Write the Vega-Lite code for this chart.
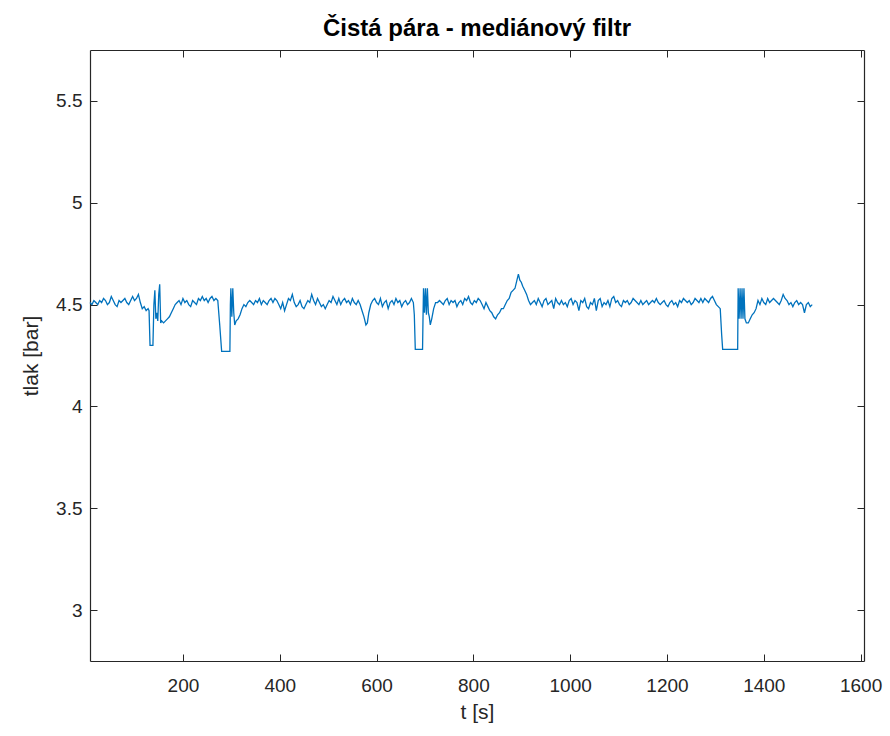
{
  "$schema": "https://vega.github.io/schema/vega-lite/v6.json",
  "width": 774,
  "height": 611,
  "autosize": "none",
  "padding": {"left": 90, "top": 50, "right": 26, "bottom": 75},
  "background": "white",
  "title": {
    "text": "Čistá pára - mediánový filtr",
    "font": "Liberation Sans",
    "fontSize": 24,
    "fontWeight": "bold",
    "color": "#000000",
    "offset": 9
  },
  "config": {
    "view": {"stroke": null},
    "axis": {
      "labelFont": "Liberation Sans",
      "titleFont": "Liberation Sans",
      "labelColor": "#262626",
      "titleColor": "#262626",
      "domainColor": "#262626",
      "tickColor": "#262626",
      "grid": false,
      "labelFontSize": 19,
      "titleFontSize": 21,
      "titleFontWeight": "normal",
      "tickSize": -7,
      "domainWidth": 1.2
    }
  },
  "data": {
    "values": [
      {"t": 8, "p": 4.51}, {"t": 12, "p": 4.5}, {"t": 16, "p": 4.52}, {"t": 20, "p": 4.51},
      {"t": 24, "p": 4.5}, {"t": 28, "p": 4.52}, {"t": 32, "p": 4.51}, {"t": 36, "p": 4.53},
      {"t": 40, "p": 4.52}, {"t": 44, "p": 4.5}, {"t": 48, "p": 4.51}, {"t": 52, "p": 4.54},
      {"t": 56, "p": 4.52}, {"t": 60, "p": 4.5}, {"t": 64, "p": 4.49}, {"t": 68, "p": 4.52},
      {"t": 72, "p": 4.51}, {"t": 76, "p": 4.52}, {"t": 80, "p": 4.53}, {"t": 84, "p": 4.51},
      {"t": 88, "p": 4.5}, {"t": 92, "p": 4.52}, {"t": 96, "p": 4.54}, {"t": 100, "p": 4.52},
      {"t": 104, "p": 4.53}, {"t": 108, "p": 4.55}, {"t": 112, "p": 4.51}, {"t": 116, "p": 4.48},
      {"t": 120, "p": 4.49}, {"t": 124, "p": 4.47}, {"t": 128, "p": 4.48}, {"t": 130, "p": 4.47},
      {"t": 132, "p": 4.3}, {"t": 138, "p": 4.3}, {"t": 140, "p": 4.5}, {"t": 142, "p": 4.57},
      {"t": 144, "p": 4.43}, {"t": 146, "p": 4.46}, {"t": 148, "p": 4.42}, {"t": 150, "p": 4.55},
      {"t": 152, "p": 4.6}, {"t": 154, "p": 4.41}, {"t": 156, "p": 4.42}, {"t": 160, "p": 4.41},
      {"t": 164, "p": 4.42}, {"t": 168, "p": 4.43}, {"t": 172, "p": 4.44}, {"t": 176, "p": 4.46},
      {"t": 180, "p": 4.48}, {"t": 184, "p": 4.5}, {"t": 188, "p": 4.51}, {"t": 192, "p": 4.52},
      {"t": 196, "p": 4.5}, {"t": 200, "p": 4.53}, {"t": 204, "p": 4.51}, {"t": 208, "p": 4.52},
      {"t": 212, "p": 4.5}, {"t": 216, "p": 4.49}, {"t": 220, "p": 4.52}, {"t": 224, "p": 4.51},
      {"t": 228, "p": 4.5}, {"t": 232, "p": 4.53}, {"t": 236, "p": 4.52}, {"t": 240, "p": 4.54},
      {"t": 244, "p": 4.52}, {"t": 248, "p": 4.53}, {"t": 252, "p": 4.51}, {"t": 256, "p": 4.53},
      {"t": 260, "p": 4.54}, {"t": 264, "p": 4.52}, {"t": 268, "p": 4.53}, {"t": 272, "p": 4.52},
      {"t": 276, "p": 4.4}, {"t": 280, "p": 4.27}, {"t": 297, "p": 4.27}, {"t": 298, "p": 4.5},
      {"t": 299, "p": 4.58}, {"t": 301, "p": 4.44}, {"t": 303, "p": 4.58}, {"t": 305, "p": 4.46},
      {"t": 307, "p": 4.4}, {"t": 310, "p": 4.42}, {"t": 314, "p": 4.43}, {"t": 318, "p": 4.45},
      {"t": 322, "p": 4.48}, {"t": 326, "p": 4.5}, {"t": 330, "p": 4.49}, {"t": 334, "p": 4.51},
      {"t": 338, "p": 4.52}, {"t": 342, "p": 4.51}, {"t": 346, "p": 4.5}, {"t": 350, "p": 4.52},
      {"t": 354, "p": 4.51}, {"t": 358, "p": 4.53}, {"t": 362, "p": 4.5}, {"t": 366, "p": 4.52},
      {"t": 370, "p": 4.51}, {"t": 374, "p": 4.5}, {"t": 378, "p": 4.52}, {"t": 382, "p": 4.53},
      {"t": 386, "p": 4.51}, {"t": 390, "p": 4.53}, {"t": 394, "p": 4.52}, {"t": 398, "p": 4.5},
      {"t": 402, "p": 4.48}, {"t": 406, "p": 4.51}, {"t": 410, "p": 4.47}, {"t": 414, "p": 4.5},
      {"t": 418, "p": 4.53}, {"t": 422, "p": 4.52}, {"t": 426, "p": 4.55}, {"t": 430, "p": 4.51},
      {"t": 434, "p": 4.49}, {"t": 438, "p": 4.5}, {"t": 442, "p": 4.52}, {"t": 446, "p": 4.49},
      {"t": 450, "p": 4.48}, {"t": 454, "p": 4.5}, {"t": 458, "p": 4.52}, {"t": 462, "p": 4.51},
      {"t": 466, "p": 4.55}, {"t": 470, "p": 4.52}, {"t": 474, "p": 4.5}, {"t": 478, "p": 4.53},
      {"t": 482, "p": 4.51}, {"t": 486, "p": 4.49}, {"t": 490, "p": 4.5}, {"t": 494, "p": 4.48},
      {"t": 498, "p": 4.5}, {"t": 502, "p": 4.52}, {"t": 506, "p": 4.51}, {"t": 510, "p": 4.54},
      {"t": 514, "p": 4.52}, {"t": 518, "p": 4.5}, {"t": 522, "p": 4.53}, {"t": 526, "p": 4.5},
      {"t": 530, "p": 4.52}, {"t": 534, "p": 4.53}, {"t": 538, "p": 4.51}, {"t": 542, "p": 4.52},
      {"t": 546, "p": 4.5}, {"t": 550, "p": 4.53}, {"t": 554, "p": 4.51}, {"t": 558, "p": 4.5},
      {"t": 562, "p": 4.52}, {"t": 566, "p": 4.5}, {"t": 570, "p": 4.47}, {"t": 574, "p": 4.44},
      {"t": 578, "p": 4.4}, {"t": 581, "p": 4.41}, {"t": 584, "p": 4.46}, {"t": 588, "p": 4.5},
      {"t": 592, "p": 4.52}, {"t": 596, "p": 4.53}, {"t": 600, "p": 4.51}, {"t": 604, "p": 4.5},
      {"t": 608, "p": 4.53}, {"t": 612, "p": 4.49}, {"t": 616, "p": 4.51}, {"t": 620, "p": 4.52},
      {"t": 624, "p": 4.48}, {"t": 628, "p": 4.51}, {"t": 632, "p": 4.52}, {"t": 636, "p": 4.5},
      {"t": 640, "p": 4.53}, {"t": 644, "p": 4.51}, {"t": 648, "p": 4.52}, {"t": 652, "p": 4.49},
      {"t": 656, "p": 4.51}, {"t": 660, "p": 4.52}, {"t": 664, "p": 4.5}, {"t": 668, "p": 4.51},
      {"t": 672, "p": 4.53}, {"t": 676, "p": 4.51}, {"t": 678, "p": 4.45}, {"t": 680, "p": 4.28},
      {"t": 695, "p": 4.28}, {"t": 696, "p": 4.44}, {"t": 697, "p": 4.58}, {"t": 699, "p": 4.46},
      {"t": 701, "p": 4.58}, {"t": 703, "p": 4.45}, {"t": 705, "p": 4.58}, {"t": 707, "p": 4.46},
      {"t": 709, "p": 4.44}, {"t": 711, "p": 4.4}, {"t": 714, "p": 4.43}, {"t": 718, "p": 4.48},
      {"t": 722, "p": 4.51}, {"t": 726, "p": 4.51}, {"t": 730, "p": 4.52}, {"t": 734, "p": 4.51},
      {"t": 738, "p": 4.5}, {"t": 742, "p": 4.52}, {"t": 746, "p": 4.53}, {"t": 750, "p": 4.5},
      {"t": 754, "p": 4.52}, {"t": 758, "p": 4.51}, {"t": 762, "p": 4.52}, {"t": 766, "p": 4.49},
      {"t": 770, "p": 4.51}, {"t": 774, "p": 4.52}, {"t": 778, "p": 4.5}, {"t": 782, "p": 4.53},
      {"t": 786, "p": 4.52}, {"t": 790, "p": 4.54}, {"t": 794, "p": 4.51}, {"t": 798, "p": 4.5},
      {"t": 802, "p": 4.52}, {"t": 806, "p": 4.51}, {"t": 810, "p": 4.53}, {"t": 814, "p": 4.52},
      {"t": 818, "p": 4.5}, {"t": 822, "p": 4.48}, {"t": 826, "p": 4.51}, {"t": 830, "p": 4.49},
      {"t": 834, "p": 4.47}, {"t": 838, "p": 4.46}, {"t": 842, "p": 4.44}, {"t": 846, "p": 4.43},
      {"t": 850, "p": 4.45}, {"t": 854, "p": 4.46}, {"t": 858, "p": 4.48}, {"t": 862, "p": 4.48},
      {"t": 866, "p": 4.5}, {"t": 870, "p": 4.52}, {"t": 874, "p": 4.53}, {"t": 878, "p": 4.56},
      {"t": 882, "p": 4.57}, {"t": 886, "p": 4.58}, {"t": 890, "p": 4.62}, {"t": 893, "p": 4.65},
      {"t": 896, "p": 4.62}, {"t": 899, "p": 4.61}, {"t": 902, "p": 4.59}, {"t": 906, "p": 4.57},
      {"t": 910, "p": 4.55}, {"t": 914, "p": 4.52}, {"t": 918, "p": 4.5}, {"t": 922, "p": 4.51},
      {"t": 926, "p": 4.52}, {"t": 930, "p": 4.5}, {"t": 934, "p": 4.53}, {"t": 938, "p": 4.51},
      {"t": 942, "p": 4.49}, {"t": 946, "p": 4.52}, {"t": 950, "p": 4.53}, {"t": 954, "p": 4.5},
      {"t": 958, "p": 4.51}, {"t": 962, "p": 4.52}, {"t": 966, "p": 4.48}, {"t": 970, "p": 4.53},
      {"t": 974, "p": 4.51}, {"t": 978, "p": 4.5}, {"t": 982, "p": 4.52}, {"t": 986, "p": 4.5},
      {"t": 990, "p": 4.51}, {"t": 994, "p": 4.49}, {"t": 998, "p": 4.52}, {"t": 1002, "p": 4.53},
      {"t": 1006, "p": 4.5}, {"t": 1010, "p": 4.52}, {"t": 1014, "p": 4.51}, {"t": 1018, "p": 4.47},
      {"t": 1022, "p": 4.52}, {"t": 1026, "p": 4.51}, {"t": 1030, "p": 4.53}, {"t": 1034, "p": 4.49},
      {"t": 1038, "p": 4.48}, {"t": 1042, "p": 4.51}, {"t": 1046, "p": 4.5}, {"t": 1050, "p": 4.53},
      {"t": 1054, "p": 4.47}, {"t": 1058, "p": 4.52}, {"t": 1062, "p": 4.53}, {"t": 1066, "p": 4.49},
      {"t": 1070, "p": 4.51}, {"t": 1074, "p": 4.5}, {"t": 1078, "p": 4.52}, {"t": 1082, "p": 4.49},
      {"t": 1086, "p": 4.53}, {"t": 1090, "p": 4.54}, {"t": 1094, "p": 4.51}, {"t": 1098, "p": 4.52},
      {"t": 1102, "p": 4.5}, {"t": 1106, "p": 4.49}, {"t": 1110, "p": 4.52}, {"t": 1114, "p": 4.51},
      {"t": 1118, "p": 4.52}, {"t": 1122, "p": 4.5}, {"t": 1126, "p": 4.51}, {"t": 1130, "p": 4.53},
      {"t": 1134, "p": 4.52}, {"t": 1138, "p": 4.51}, {"t": 1142, "p": 4.5}, {"t": 1146, "p": 4.52},
      {"t": 1150, "p": 4.5}, {"t": 1154, "p": 4.51}, {"t": 1158, "p": 4.52}, {"t": 1162, "p": 4.5},
      {"t": 1166, "p": 4.51}, {"t": 1170, "p": 4.52}, {"t": 1174, "p": 4.51}, {"t": 1178, "p": 4.53},
      {"t": 1182, "p": 4.51}, {"t": 1186, "p": 4.5}, {"t": 1190, "p": 4.51}, {"t": 1194, "p": 4.52},
      {"t": 1198, "p": 4.5}, {"t": 1202, "p": 4.49}, {"t": 1206, "p": 4.51}, {"t": 1210, "p": 4.52},
      {"t": 1214, "p": 4.5}, {"t": 1218, "p": 4.51}, {"t": 1222, "p": 4.49}, {"t": 1226, "p": 4.52},
      {"t": 1230, "p": 4.51}, {"t": 1234, "p": 4.53}, {"t": 1238, "p": 4.52}, {"t": 1242, "p": 4.51},
      {"t": 1246, "p": 4.52}, {"t": 1250, "p": 4.5}, {"t": 1254, "p": 4.51}, {"t": 1258, "p": 4.53},
      {"t": 1262, "p": 4.52}, {"t": 1266, "p": 4.51}, {"t": 1270, "p": 4.53}, {"t": 1274, "p": 4.51},
      {"t": 1278, "p": 4.53}, {"t": 1282, "p": 4.52}, {"t": 1286, "p": 4.51}, {"t": 1290, "p": 4.53},
      {"t": 1294, "p": 4.54}, {"t": 1298, "p": 4.52}, {"t": 1302, "p": 4.5}, {"t": 1306, "p": 4.49},
      {"t": 1310, "p": 4.48}, {"t": 1313, "p": 4.35}, {"t": 1315, "p": 4.28}, {"t": 1346, "p": 4.28},
      {"t": 1347, "p": 4.58}, {"t": 1349, "p": 4.43}, {"t": 1351, "p": 4.58}, {"t": 1353, "p": 4.43},
      {"t": 1355, "p": 4.58}, {"t": 1357, "p": 4.43}, {"t": 1359, "p": 4.58}, {"t": 1361, "p": 4.43},
      {"t": 1364, "p": 4.41}, {"t": 1368, "p": 4.41}, {"t": 1372, "p": 4.43}, {"t": 1376, "p": 4.45},
      {"t": 1380, "p": 4.46}, {"t": 1384, "p": 4.48}, {"t": 1388, "p": 4.52}, {"t": 1392, "p": 4.5},
      {"t": 1396, "p": 4.53}, {"t": 1400, "p": 4.51}, {"t": 1404, "p": 4.5}, {"t": 1408, "p": 4.53},
      {"t": 1412, "p": 4.51}, {"t": 1416, "p": 4.52}, {"t": 1420, "p": 4.53}, {"t": 1424, "p": 4.52},
      {"t": 1428, "p": 4.51}, {"t": 1432, "p": 4.5}, {"t": 1436, "p": 4.52}, {"t": 1440, "p": 4.55},
      {"t": 1444, "p": 4.53}, {"t": 1448, "p": 4.52}, {"t": 1452, "p": 4.5}, {"t": 1456, "p": 4.51},
      {"t": 1460, "p": 4.49}, {"t": 1464, "p": 4.51}, {"t": 1468, "p": 4.52}, {"t": 1472, "p": 4.5},
      {"t": 1476, "p": 4.51}, {"t": 1480, "p": 4.5}, {"t": 1484, "p": 4.46}, {"t": 1488, "p": 4.5},
      {"t": 1492, "p": 4.51}, {"t": 1496, "p": 4.49}, {"t": 1500, "p": 4.5}
    ]
  },
  "encoding": {
    "x": {
      "field": "t",
      "type": "quantitative",
      "scale": {"domain": [8, 1607], "nice": false, "zero": false}
    },
    "y": {
      "field": "p",
      "type": "quantitative",
      "scale": {"domain": [2.75, 5.75], "nice": false, "zero": false}
    }
  },
  "layer": [
    {
      "mark": {"type": "line", "color": "#0072BD", "strokeWidth": 1.3},
      "encoding": {
        "x": {
          "field": "t",
          "type": "quantitative",
          "axis": {
            "values": [200, 400, 600, 800, 1000, 1200, 1400, 1600],
            "format": "d",
            "title": "t [s]",
            "labelPadding": 22,
            "titlePadding": 6
          }
        },
        "y": {
          "field": "p",
          "type": "quantitative",
          "axis": {
            "values": [3, 3.5, 4, 4.5, 5, 5.5],
            "format": "~g",
            "title": "tlak [bar]",
            "labelPadding": 15,
            "titlePadding": 14
          }
        }
      }
    },
    {
      "mark": {"type": "line", "opacity": 0},
      "encoding": {
        "x": {
          "field": "t",
          "type": "quantitative",
          "axis": {
            "orient": "top",
            "values": [200, 400, 600, 800, 1000, 1200, 1400, 1600],
            "labels": false,
            "title": null
          }
        },
        "y": {
          "field": "p",
          "type": "quantitative",
          "axis": {
            "orient": "right",
            "values": [3, 3.5, 4, 4.5, 5, 5.5],
            "labels": false,
            "title": null
          }
        }
      }
    }
  ],
  "resolve": {"axis": {"x": "independent", "y": "independent"}}
}
